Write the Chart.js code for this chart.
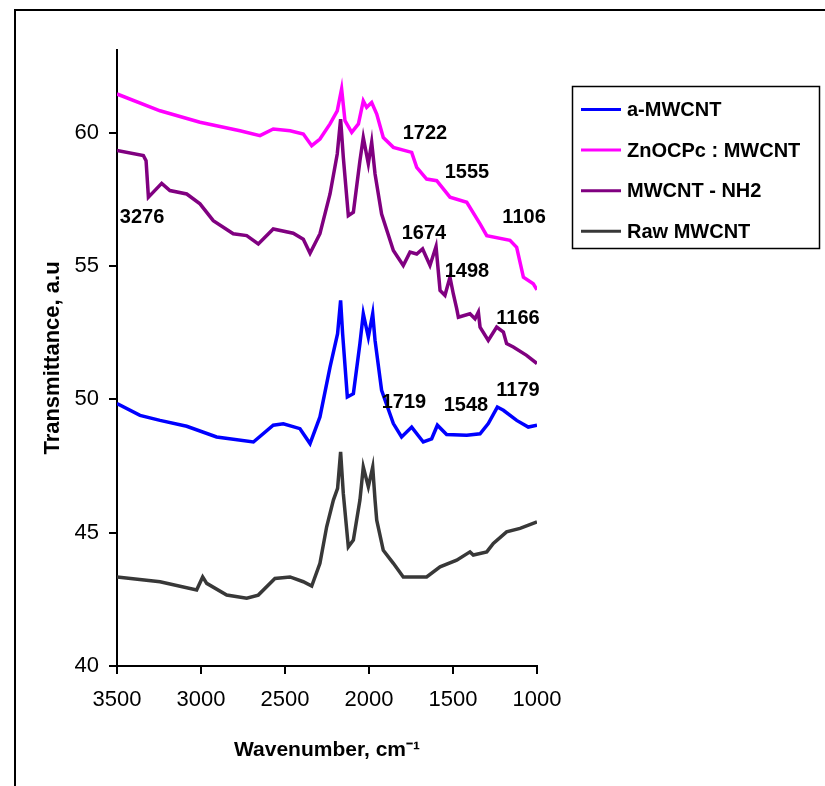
<!DOCTYPE html>
<html>
<head>
<meta charset="utf-8">
<script src="https://cdn.jsdelivr.net/npm/chart.js@4.4.1/dist/chart.umd.min.js"></script>
<style>
  html, body { margin: 0; padding: 0; background: #ffffff; }
  #wrap { width: 825px; height: 786px; position: relative; }
</style>
</head>
<body>
<div id="wrap"><canvas id="ftir" width="825" height="786"></canvas></div>
<script>
// FTIR spectra: transmittance (a.u.) against wavenumber (cm-1)
const seriesNames = ['a-MWCNT', 'ZnOCPc : MWCNT', 'MWCNT - NH2', 'Raw MWCNT'];
const seriesColors = ['#0000ff', '#ff00ff', '#800080', '#383838'];

const aMwcntWave = [3500,3363,3244,3085,2907,2688,2570,2510,2411,2351,2292,2232,2187,2169,2157,2129,2093,2054,2034,2004,1978,1964,1925,1855,1806,1746,1677,1627,1593,1538,1418,1339,1290,1236,1200,1121,1052,1000];
const aMwcntT    = [49.84,49.40,49.21,48.99,48.59,48.40,49.03,49.08,48.90,48.34,49.34,51.21,52.46,53.71,52.46,50.09,50.21,52.09,53.21,52.33,53.21,52.21,50.34,49.09,48.59,48.96,48.40,48.52,49.03,48.68,48.65,48.71,49.09,49.71,49.59,49.21,48.96,49.03];

const znocpcWave = [3500,3244,3006,2768,2649,2570,2470,2391,2341,2292,2232,2189,2163,2143,2103,2063,2034,2014,1984,1954,1915,1855,1746,1716,1657,1597,1518,1418,1339,1299,1161,1121,1081,1022,1000];
const znocpcT    = [61.45,60.82,60.39,60.07,59.89,60.14,60.07,59.95,59.51,59.76,60.33,60.82,61.64,60.45,60.01,60.33,61.19,60.95,61.13,60.70,59.82,59.45,59.26,58.70,58.26,58.20,57.58,57.39,56.58,56.14,55.96,55.70,54.58,54.33,54.11];

const nh2Wave = [3500,3343,3327,3313,3284,3234,3185,3085,3006,2927,2808,2728,2659,2570,2451,2391,2351,2292,2232,2189,2169,2153,2123,2093,2054,2034,2004,1984,1964,1925,1855,1796,1756,1716,1681,1637,1601,1577,1548,1518,1498,1478,1468,1399,1369,1349,1339,1290,1240,1200,1181,1141,1062,1000];
const nh2T    = [59.33,59.14,58.95,57.58,57.77,58.10,57.83,57.70,57.33,56.70,56.21,56.14,55.83,56.39,56.23,56.00,55.48,56.21,57.70,59.20,60.51,59.08,56.89,57.02,58.95,59.82,58.83,59.64,58.45,56.95,55.58,55.02,55.52,55.45,55.64,55.02,55.73,54.08,53.90,54.58,53.95,53.40,53.08,53.21,53.02,53.27,52.71,52.21,52.71,52.52,52.09,51.96,51.65,51.34];

const rawWave = [3500,3244,3026,2990,2966,2847,2728,2659,2560,2470,2391,2341,2292,2252,2212,2187,2169,2153,2123,2093,2054,2034,2004,1978,1964,1954,1915,1855,1796,1657,1577,1478,1399,1379,1299,1260,1181,1101,1000];
const rawT    = [43.34,43.16,42.85,43.34,43.10,42.66,42.54,42.66,43.28,43.34,43.16,43.00,43.85,45.22,46.22,46.66,48.03,46.47,44.47,44.72,46.22,47.46,46.72,47.46,46.22,45.47,44.34,43.85,43.34,43.34,43.72,43.97,44.28,44.16,44.28,44.60,45.03,45.16,45.40];

// Band assignments written next to the spectra (text, wavenumber anchor, transmittance anchor)
const bandLabels = ['3276','1722','1555','1106','1674','1498','1166','1719','1548','1179'];
const bandLabelWave = [3351,1667,1417,1077,1673,1417,1113,1792,1423,1113];
const bandLabelT    = [56.82,59.96,58.50,56.82,56.22,54.79,53.03,49.89,49.78,50.34];

// Axis ticks
const waveTicks = [3500, 3000, 2500, 2000, 1500, 1000];
const transTicks = [40, 45, 50, 55, 60];

const FONT = "'Liberation Sans', Arial, Helvetica, sans-serif";

function pairs(xs, ys) { return xs.map((x, i) => ({ x: x, y: ys[i] })); }
const seriesData = [pairs(aMwcntWave, aMwcntT), pairs(znocpcWave, znocpcT), pairs(nh2Wave, nh2T), pairs(rawWave, rawT)];

// Outer frame around the figure
const framePlugin = {
  id: 'frame',
  beforeDraw(chart) {
    const ctx = chart.ctx;
    ctx.save();
    ctx.fillStyle = '#ffffff';
    ctx.fillRect(0, 0, chart.width, chart.height);
    ctx.strokeStyle = '#000000';
    ctx.lineWidth = 2;
    ctx.strokeRect(15, 10, chart.width + 20, chart.height + 20);
    ctx.restore();
  }
};

// Band labels placed through the scales
const bandPlugin = {
  id: 'bands',
  afterDatasetsDraw(chart) {
    const ctx = chart.ctx, xs = chart.scales.x, ys = chart.scales.y;
    ctx.save();
    ctx.fillStyle = '#000000';
    ctx.font = 'bold 20px ' + FONT;
    ctx.textAlign = 'center';
    ctx.textBaseline = 'middle';
    bandLabels.forEach((t, i) => {
      ctx.fillText(t, xs.getPixelForValue(bandLabelWave[i]), ys.getPixelForValue(bandLabelT[i]));
    });
    ctx.restore();
  }
};

// Boxed legend on the right, built from the datasets
const legendBoxPlugin = {
  id: 'legendBox',
  afterDraw(chart) {
    const ctx = chart.ctx;
    const box = { x: 572.5, y: 86.5, w: 247, h: 162 };
    ctx.save();
    ctx.strokeStyle = '#000000';
    ctx.lineWidth = 1.5;
    ctx.strokeRect(box.x, box.y, box.w, box.h);
    ctx.font = 'bold 20px ' + FONT;
    ctx.textAlign = 'left';
    ctx.textBaseline = 'middle';
    chart.data.datasets.forEach((ds, i) => {
      const cy = 109.5 + i * 40.6;
      ctx.strokeStyle = ds.borderColor;
      ctx.lineWidth = 3;
      ctx.beginPath();
      ctx.moveTo(581, cy);
      ctx.lineTo(621, cy);
      ctx.stroke();
      ctx.fillStyle = '#000000';
      ctx.fillText(ds.label, 627, cy + 1);
    });
    ctx.restore();
  }
};

new Chart(document.getElementById('ftir'), {
  type: 'line',
  data: {
    datasets: seriesNames.map((name, i) => ({
      label: name,
      data: seriesData[i],
      borderColor: seriesColors[i],
      backgroundColor: seriesColors[i],
      borderWidth: 3.5,
      pointRadius: 0,
      tension: 0,
      fill: false
    }))
  },
  options: {
    responsive: false,
    animation: false,
    devicePixelRatio: 1,
    layout: { padding: { top: 50, right: 288, bottom: 0, left: 0 } },
    plugins: {
      legend: { display: false },
      tooltip: { enabled: false }
    },
    scales: {
      x: {
        type: 'linear',
        reverse: true,
        min: 1000,
        max: 3500,
        afterBuildTicks(s) { s.ticks = waveTicks.map(v => ({ value: v })); },
        afterFit(s) { s.height = 120; },
        ticks: { color: '#000000', font: { family: FONT, size: 22 }, padding: 13, maxRotation: 0, callback: v => String(v) },
        grid: { drawOnChartArea: false, drawTicks: true, tickLength: 8, color: '#000000', lineWidth: 2 },
        border: { color: '#000000', width: 2 },
        title: {
          display: true,
          text: 'Wavenumber, cm\u207B\u00B9',
          color: '#000000',
          font: { family: FONT, size: 21, weight: 'bold' },
          padding: { top: 0, bottom: 23 }
        }
      },
      y: {
        type: 'linear',
        min: 40,
        max: 63.1,
        afterBuildTicks(s) { s.ticks = transTicks.map(v => ({ value: v })); },
        afterFit(s) { s.width = 117; },
        ticks: { color: '#000000', font: { family: FONT, size: 22 }, padding: 10, callback: v => String(v) },
        grid: { drawOnChartArea: false, drawTicks: true, tickLength: 8, color: '#000000', lineWidth: 2 },
        border: { color: '#000000', width: 2 },
        title: {
          display: true,
          text: 'Transmittance, a.u',
          color: '#000000',
          font: { family: FONT, size: 22, weight: 'bold' },
          padding: { top: 40, bottom: 0 }
        }
      }
    }
  },
  plugins: [framePlugin, bandPlugin, legendBoxPlugin]
});
</script>
</body>
</html>
